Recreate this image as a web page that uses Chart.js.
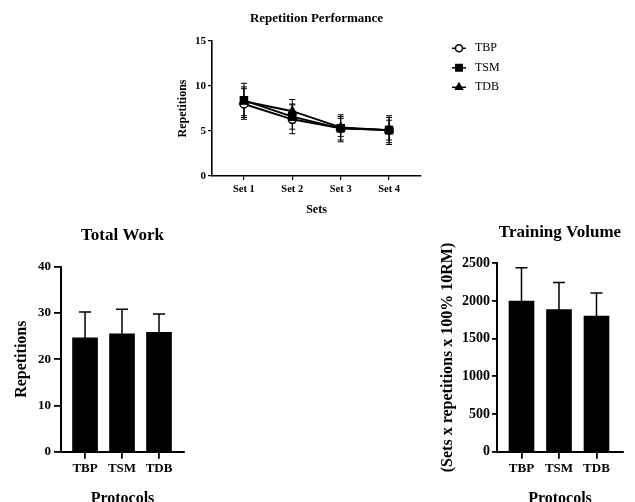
<!DOCTYPE html>
<html>
<head>
<meta charset="utf-8">
<script src="https://cdn.jsdelivr.net/npm/chart.js@4.4.0/dist/chart.umd.min.js"></script>
<style>
  html, body { margin: 0; padding: 0; background: #fff; overflow: hidden; width: 635px; height: 502px; }
  canvas { position: absolute; }
</style>
</head>
<body>
<canvas id="repChart" width="635" height="222" style="left:0;top:0"></canvas>
<canvas id="workChart" width="220" height="290" style="left:0;top:222px"></canvas>
<canvas id="volChart" width="220" height="290" style="left:415px;top:222px"></canvas>
<script>
// data
const sets = ['Set 1', 'Set 2', 'Set 3', 'Set 4'];
const protocols = ['TBP', 'TSM', 'TDB'];
const repTBP = [8.0, 6.3, 5.3, 5.1];
const repTSM = [8.4, 6.6, 5.3, 5.1];
const repTDB = [8.3, 7.2, 5.4, 5.1];
const sdTBP = [1.7, 1.6, 1.3, 1.6];
const sdTSM = [1.9, 1.4, 1.5, 1.4];
const sdTDB = [1.6, 1.3, 1.0, 1.1];
const totalWork = [24.6, 25.5, 25.8];
const totalWorkSD = [5.6, 5.3, 4.0];
const trainingVolume = [2000, 1885, 1800];
const trainingVolumeSD = [440, 360, 305];

const serif = "'Liberation Serif', 'Times New Roman', serif";
Chart.defaults.font.family = serif;
Chart.defaults.font.weight = 'bold';
Chart.defaults.color = '#000';

function drawErrors(chart, o) {
  const ctx = chart.ctx, ys = chart.scales.y;
  ctx.save();
  ctx.strokeStyle = '#000';
  ctx.lineWidth = o.width;
  chart.data.datasets.forEach((ds, i) => {
    chart.getDatasetMeta(i).data.forEach((el, j) => {
      const v = ds.data[j].y, e = ds.errors[j];
      const top = ys.getPixelForValue(v + e);
      const bot = o.both ? ys.getPixelForValue(v - e) : el.y;
      ctx.beginPath();
      ctx.moveTo(el.x, bot); ctx.lineTo(el.x, top);
      ctx.moveTo(el.x - o.cap, top); ctx.lineTo(el.x + o.cap, top);
      if (o.both) { ctx.moveTo(el.x - o.cap, bot); ctx.lineTo(el.x + o.cap, bot); }
      ctx.stroke();
    });
  });
  ctx.restore();
}

const errorBars = {
  id: 'errorBars',
  beforeDatasetsDraw(chart, args, o) { if (o.under) drawErrors(chart, o); },
  afterDatasetsDraw(chart, args, o) { if (!o.under) drawErrors(chart, o); }
};

const sideLegend = {
  id: 'sideLegend',
  afterDraw(chart, args, o) {
    const ctx = chart.ctx;
    ctx.save();
    chart.data.datasets.forEach((ds, i) => {
      const y = o.y + i * o.gap;
      ctx.strokeStyle = '#000';
      ctx.lineWidth = 1.5;
      ctx.beginPath(); ctx.moveTo(o.x - 7, y); ctx.lineTo(o.x + 7, y); ctx.stroke();
      ctx.fillStyle = ds.pointBackgroundColor;
      Chart.helpers.drawPoint(ctx, { pointStyle: ds.pointStyle, radius: ds.pointRadius - 0.5, borderWidth: ds.pointBorderWidth, rotation: 0 }, o.x, y);
      ctx.fillStyle = '#000';
      ctx.font = o.font;
      ctx.textBaseline = 'middle';
      ctx.fillText(ds.label, o.x + 16, y);
    });
    ctx.restore();
  }
};

function lineSet(label, vals, sd, style, fill, r, order) {
  return {
    label,
    order,
    data: vals.map((v, i) => ({ x: i + 1, y: v })),
    errors: sd,
    borderColor: '#000',
    borderWidth: 1.9,
    pointStyle: style,
    pointRadius: r,
    pointBackgroundColor: fill,
    pointBorderColor: '#000',
    pointBorderWidth: 1.5
  };
}

new Chart(document.getElementById('repChart'), {
  type: 'line',
  data: {
    datasets: [
      lineSet('TBP', repTBP, sdTBP, 'circle', '#fff', 4, 3),
      lineSet('TSM', repTSM, sdTSM, 'rect', '#000', 5, 1),
      lineSet('TDB', repTDB, sdTDB, 'triangle', '#000', 4.5, 2)
    ]
  },
  options: {
    responsive: false,
    animation: false,
    events: [],
    layout: { padding: { left: 172, right: 214, top: 0, bottom: 0 } },
    plugins: {
      legend: { display: false },
      tooltip: { enabled: false },
      title: { display: true, text: 'Repetition Performance', fullSize: false, font: { size: 13 }, padding: { top: 11, bottom: 14.4 } },
      errorBars: { both: true, cap: 3, width: 1, under: true },
      sideLegend: { x: 459, y: 48.3, gap: 19.5, font: "12px " + serif }
    },
    scales: {
      x: {
        type: 'linear', min: 0.34, max: 4.66, offset: false,
        afterBuildTicks: s => { s.ticks = sets.map((t, i) => ({ value: i + 1 })); },
        afterFit: s => { s.height = 46; },
        ticks: { callback: v => sets[v - 1], font: { size: 10.5 }, padding: 3, maxRotation: 0, autoSkip: false },
        grid: { drawOnChartArea: false, color: '#000', lineWidth: 1.2, tickLength: 4, offset: false },
        border: { color: '#000', width: 1.6 },
        title: { display: true, text: 'Sets', font: { size: 12 }, padding: { top: 0, bottom: 4.8 } }
      },
      y: {
        min: 0, max: 15,
        afterFit: s => { s.width = 40; },
        ticks: { stepSize: 5, font: { size: 11 }, padding: 2 },
        grid: { drawOnChartArea: false, color: '#000', lineWidth: 1.2, tickLength: 4 },
        border: { color: '#000', width: 1.6 },
        title: { display: true, text: 'Repetitions', font: { size: 12 }, padding: { top: 4, bottom: 0 } }
      }
    }
  },
  plugins: [errorBars, sideLegend]
});

function barChart(id, vals, sd, o) {
  return new Chart(document.getElementById(id), {
    type: 'bar',
    data: {
      datasets: [{
        data: vals.map((v, i) => ({ x: i + 1, y: v })),
        errors: sd,
        backgroundColor: '#000',
        barThickness: 25
      }]
    },
    options: {
      responsive: false,
      animation: false,
      events: [],
      layout: { padding: { left: o.padLeft, right: o.padRight, top: 0, bottom: 0 } },
      plugins: {
        legend: { display: false },
        tooltip: { enabled: false },
        title: { display: true, text: o.title, fullSize: false, font: { size: 17 }, padding: { top: o.titleTop, bottom: o.titleBottom } },
        errorBars: { both: false, cap: 6, width: 1.5, under: false }
      },
      scales: {
        x: {
          type: 'linear', min: o.xmin, max: o.xmax, offset: false,
          afterBuildTicks: s => { s.ticks = protocols.map((p, i) => ({ value: i + 1 })); },
          afterFit: s => { s.height = 60.3; },
          ticks: { callback: v => protocols[v - 1], font: { size: 13 }, padding: 2.5, maxRotation: 0, autoSkip: false },
          grid: { drawOnChartArea: false, color: '#000', lineWidth: 1.8, tickLength: 7, offset: false },
          border: { color: '#000', width: 2 },
          title: { display: true, text: 'Protocols', font: { size: 16 }, padding: { top: 0, bottom: 4 } }
        },
        y: {
          min: 0, max: o.ymax,
          afterFit: s => { s.width = o.yWidth; },
          ticks: { stepSize: o.step, font: { size: o.tickSize }, padding: o.tickPad, callback: v => String(v) },
          grid: { drawOnChartArea: false, color: '#000', lineWidth: 1.8, tickLength: o.tickLen },
          border: { color: '#000', width: 2 },
          title: { display: true, text: o.yTitle, font: { size: 16 }, padding: { top: o.yTitlePad, bottom: 0 } }
        }
      }
    },
    plugins: [errorBars]
  });
}

barChart('workChart', totalWork, totalWorkSD, {
  title: 'Total Work', titleTop: 3.8, titleBottom: 20.5,
  padLeft: 6, padRight: 36, yWidth: 55, yTitlePad: 6.4,
  xmin: 0.35, xmax: 3.676, ymax: 40, step: 10,
  tickSize: 13, tickPad: 3, tickLen: 7,
  yTitle: 'Repetitions'
});

barChart('volChart', trainingVolume, trainingVolumeSD, {
  title: 'Training Volume', titleTop: 0.8, titleBottom: 20.1,
  padLeft: 10, padRight: 12, yWidth: 72, yTitlePad: 13.4,
  xmin: 0.347, xmax: 3.707, ymax: 2500, step: 500,
  tickSize: 14, tickPad: 2, tickLen: 5,
  yTitle: '(Sets x repetitions x 100% 10RM)'
});
</script>
</body>
</html>
